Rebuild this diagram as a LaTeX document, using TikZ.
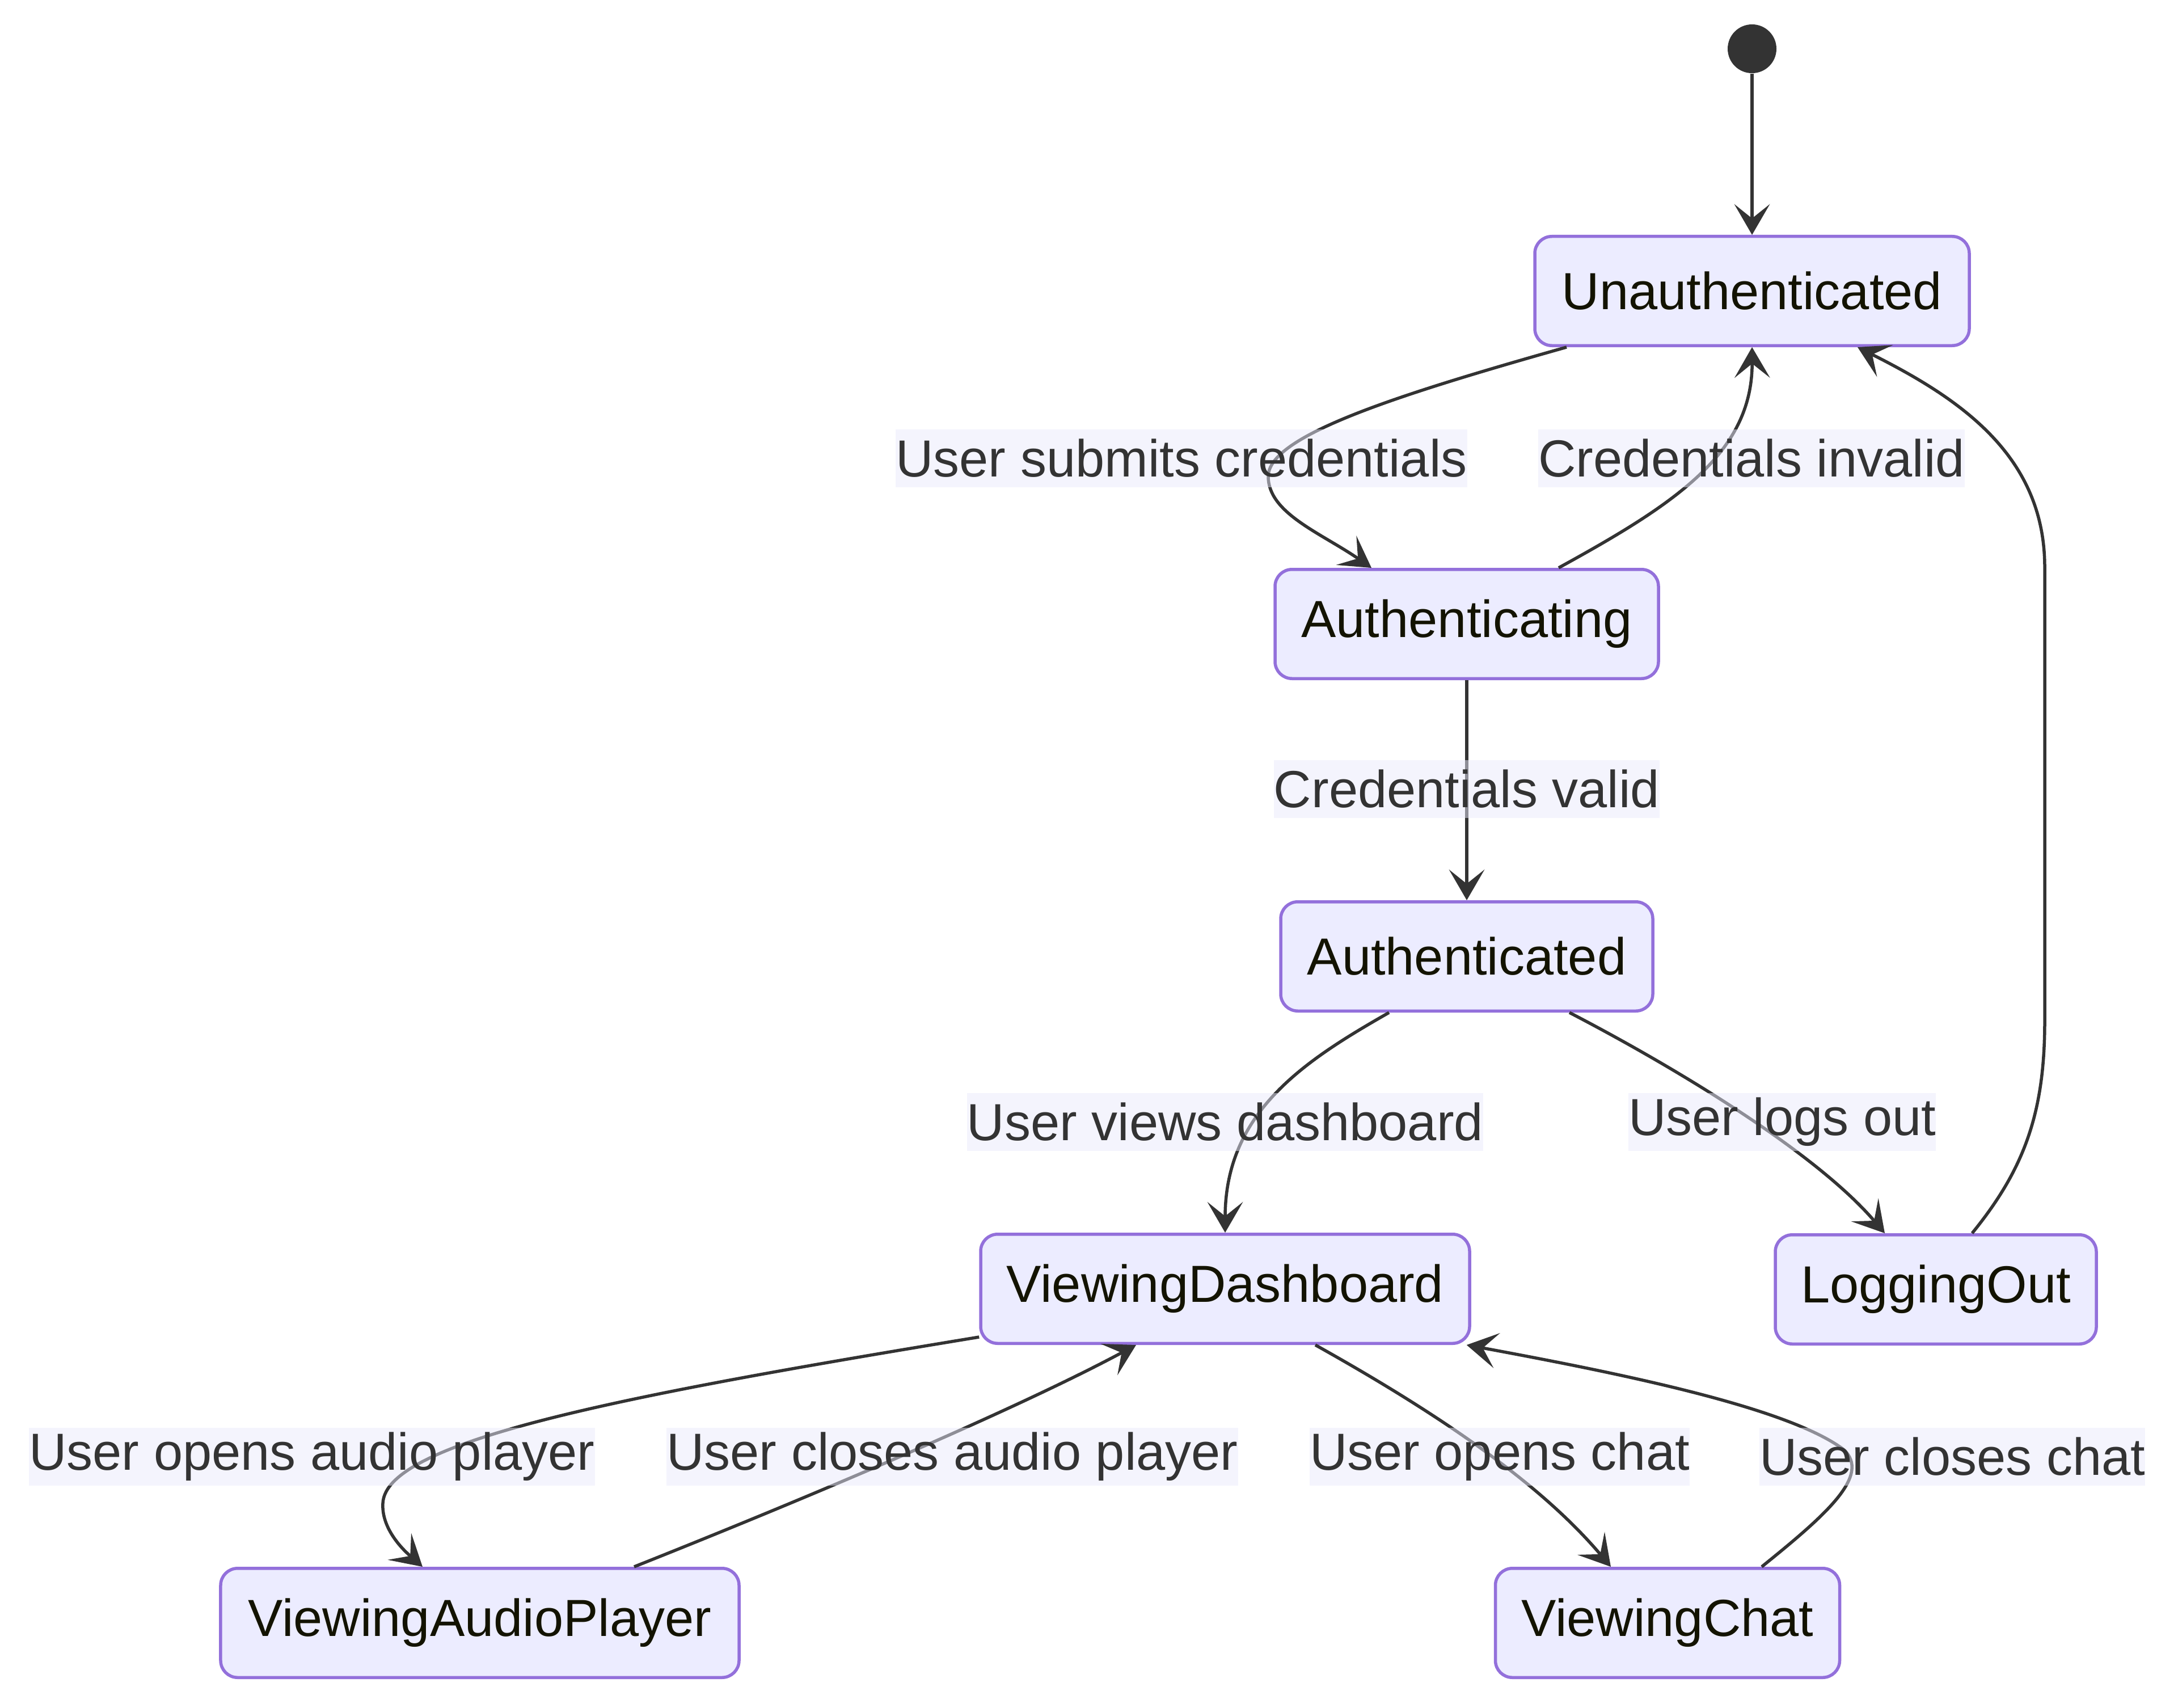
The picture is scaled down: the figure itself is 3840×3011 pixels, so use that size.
\documentclass[tikz,border=0pt]{standalone}
\usepackage{fontspec}
\setmainfont{Liberation Sans}
\usetikzlibrary{arrows.meta,calc}
\definecolor{nodefill}{HTML}{ECECFF}
\definecolor{nodeborder}{HTML}{9370DB}
\definecolor{edgecol}{HTML}{333333}
\definecolor{nodetext}{HTML}{131300}
\definecolor{labelbg}{RGB}{233,233,251}
\begin{document}
\begin{tikzpicture}[x=0.2pt,y=-0.2pt,
  state/.style={draw=nodeborder,fill=nodefill,line width=1.1pt,rounded corners=6pt,
    minimum height=38.5pt,inner sep=0pt,text=nodetext,font=\fontsize{18.4pt}{22pt}\selectfont},
  elabel/.style={fill=labelbg,fill opacity=0.5,text opacity=1,text=edgecol,inner xsep=0pt,inner ysep=0pt,
    minimum height=20.5pt,font=\fontsize{18.4pt}{22pt}\selectfont},
  edge/.style={draw=edgecol,line width=1.1pt,-{Stealth[length=10.8pt,width=12.5pt,inset=5pt]}},
  startdot/.style={circle,fill=edgecol,minimum size=17.2pt,inner sep=0pt}]
\useasboundingbox (0,0) rectangle (3840,3011);

% states
\node[startdot] (S) at (3089,86) {};
\node[state,minimum width=153.2pt] (U) at (3089,513) {Unauthenticated};
\node[state,minimum width=135.2pt] (A1) at (2586,1100) {Authenticating};
\node[state,minimum width=131.2pt] (A2) at (2586,1686) {Authenticated};
\node[state,minimum width=172.4pt] (VD) at (2160,2272) {ViewingDashboard};
\node[state,minimum width=113.2pt] (LO) at (3413,2273) {LoggingOut};
\node[state,minimum width=182.8pt] (VAP) at (846,2861) {ViewingAudioPlayer};
\node[state,minimum width=121.4pt] (VC) at (2940,2861) {ViewingChat};

% edges
\draw[edge] (S) -- (U);
\draw[edge] ($(U.south)+(-327,0)$) .. controls (2450,700) and (2236,770) .. (2236,840)
  .. controls (2236,905) and (2330,940) .. ($(A1.north)+(-168,0)$);
\draw[edge] ($(A1.north)+(162,0)$) .. controls (2950,890) and (3090,800) .. (U.south);
\draw[edge] (A1) -- (A2);
\draw[edge] ($(A2.south)+(-137,0)$) .. controls (2300,1870) and (2160,1960) .. (VD.north);
\draw[edge] ($(A2.south)+(181,0)$) .. controls (2950,1880) and (3200,2030) .. ($(LO.north)+(-90,0)$);
\draw[edge] ($(LO.north)+(64,0)$) .. controls (3570,2060) and (3605,1960) .. (3605,1800)
  -- (3605,1000) .. controls (3605,800) and (3450,700) .. ($(U.south)+(186,0)$);
\draw[edge] ($(VD.south west)+(0,-14)$) .. controls (1100,2460) and (680,2540) .. (675,2650)
  .. controls (672,2700) and (720,2740) .. ($(VAP.north)+(-101,0)$);
\draw[edge] ($(VAP.north)+(272,0)$) .. controls (1450,2630) and (1800,2480) .. ($(VD.south)+(-157,0)$);
\draw[edge] ($(VD.south)+(159,0)$) .. controls (2550,2500) and (2720,2620) .. ($(VC.north)+(-100,0)$);
\draw[edge] ($(VC.north)+(166,0)$) .. controls (3220,2670) and (3300,2600) .. (3250,2555)
  .. controls (3150,2480) and (2850,2420) .. ($(VD.south east)+(-8,0)$);

% labels
\node[elabel] (l1) at (2083,808) {User submits credentials};
\node[elabel] (l2) at (3088,808) {Credentials invalid};
\node[elabel] (l3) at (2586,1391) {Credentials valid};
\node[elabel] (l4) at (2160,1978) {User views dashboard};
\node[elabel] (l5) at (3142,1978) {User logs out};
\node[elabel] (l6) at (550,2568) {User opens audio player};
\node[elabel] (l7) at (1679,2568) {User closes audio player};
\node[elabel] (l8) at (2644,2568) {User opens chat};
\node[elabel] (l9) at (3442,2568) {User closes chat};
\end{tikzpicture}
\end{document}
